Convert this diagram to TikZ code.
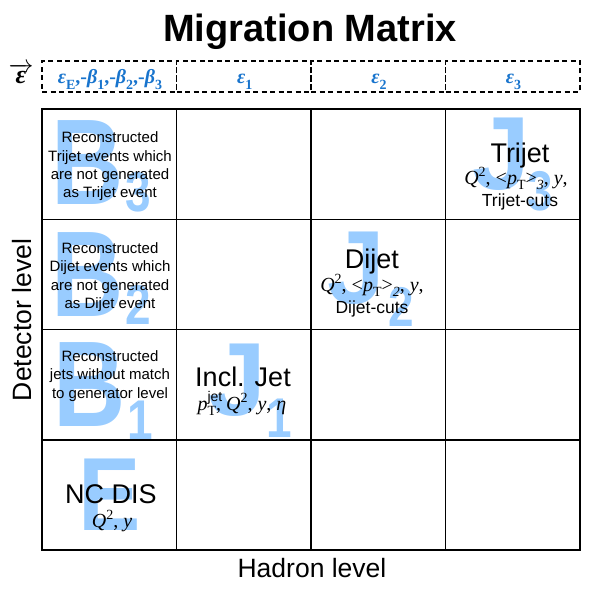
\documentclass[tikz,border=0pt]{standalone}
\usepackage{graphicx}
\usepackage{fontspec}
\setmainfont{Liberation Sans}
\newfontfamily\serif{Liberation Serif}
\definecolor{letterblue}{RGB}{153,204,255}
\definecolor{headblue}{RGB}{24,116,205}
\newcommand{\lo}[1]{\raisebox{-0.28em}{\scalebox{0.7}{#1}}}
\newcommand{\hi}[1]{\raisebox{0.36em}{\scalebox{0.7}{#1}}}
\newcommand{\mi}[1]{{\serif\itshape #1}}
\newcommand{\up}[1]{{\serif #1}}
\newcommand{\hb}[1]{{\serif\bfseries\itshape #1}}
\newcommand{\hu}[1]{{\serif\bfseries #1}}
\newcommand{\nar}[1]{\scalebox{0.82}[1]{#1}}
\begin{document}
\begin{tikzpicture}[x=1pt,y=-1pt,
  cell/.style={draw=black, line width=1.5pt, minimum width=134.5pt, minimum height=110.25pt, inner sep=0pt, outer sep=0pt, anchor=north west},
  headcell/.style={draw=black, line width=1.5pt, dash pattern=on 5pt off 3.5pt, minimum width=134.5pt, minimum height=31pt, inner sep=0pt, outer sep=0pt, anchor=north west},
  bigB/.style={text=letterblue, font=\fontsize{122}{122}\selectfont\bfseries, inner sep=0pt, anchor=center},
  bigJ/.style={text=letterblue, font=\fontsize{104}{104}\selectfont\bfseries, inner sep=0pt, anchor=center},
  bigsub/.style={text=letterblue, font=\fontsize{56}{56}\selectfont\bfseries, inner sep=0pt, anchor=center},
  desc/.style={font=\fontsize{15}{18.4}\selectfont, align=center, inner sep=0pt, anchor=center},
  proc/.style={font=\fontsize{27}{27}\selectfont, inner sep=0pt, anchor=base},
  vars/.style={font=\fontsize{20}{20}\selectfont, inner sep=0pt, anchor=base},
  cuts/.style={font=\fontsize{17.5}{17.5}\selectfont, inner sep=0pt, anchor=base},
  headtext/.style={text=headblue, font=\fontsize{20}{20}\selectfont, inner sep=0pt, anchor=base},
  axislab/.style={font=\fontsize{26.5}{26.5}\selectfont, inner sep=0pt}
]
\useasboundingbox (0,0) rectangle (602,591);

% large background letters
\node[bigB] (lB3) at (88,163) {\nar{B}};
\node[bigsub] (sB3) at (138,192) {\nar{3}};
\node[bigB] (lB2) at (88,275) {\nar{B}};
\node[bigsub] (sB2) at (138,305) {\nar{2}};
\node[bigB] (lB1) at (90,385) {\nar{B}};
\node[bigsub] (sB1) at (140,420) {\nar{1}};
\node[bigJ] (lE) at (110,495) {\scalebox{0.9}[1]{E}};
\node[bigJ] (lJ1) at (237,380) {J};
\node[bigsub] (sJ1) at (279,418) {\nar{1}};
\node[bigJ] (lJ2) at (356,268) {J};
\node[bigsub] (sJ2) at (401,307) {\nar{2}};
\node[bigJ] (lJ3) at (501,154) {J};
\node[bigsub] (sJ3) at (540,191) {\nar{3}};

% grid
\foreach \r in {0,...,3}
  \foreach \c in {0,...,3}
    \node[cell] (c\r\c) at ({42+134.5*\c},{109+110.25*\r}) {};
\foreach \c in {0,...,3}
  \node[headcell] (h\c) at ({42+134.5*\c},61) {};

% title and axis labels
\node[font=\fontsize{38}{38}\selectfont\bfseries, inner sep=0pt, anchor=base] (title) at (310,42) {Migration Matrix};
\node[axislab, rotate=90] (ylab) at (22.5,320) {Detector level};
\node[axislab, anchor=base] (xlab) at (312,577) {Hadron level};

% header
\node[inner sep=0pt, anchor=base, font=\fontsize{26}{26}\selectfont] (vec) at (21,84) {$\overrightarrow{\hbox{\hb{ε}}}$};
\node[headtext] (ht0) at (110,84) {\hb{ε}\lo{\hu{E}}\hu{,-}\hb{β}\lo{\hu{1}}\hu{,-}\hb{β}\lo{\hu{2}}\hu{,-}\hb{β}\lo{\hu{3}}};
\node[headtext] (ht1) at (244.75,84) {\hb{ε}\lo{\hu{1}}};
\node[headtext] (ht2) at (379,84) {\hb{ε}\lo{\hu{2}}};
\node[headtext] (ht3) at (513.5,84) {\hb{ε}\lo{\hu{3}}};

% cell texts
\node[desc] (t00) at (110,166.5) {Reconstructed\\Trijet events which\\are not generated\\as Trijet event};
\node[desc] (t10) at (110,277) {Reconstructed\\Dijet events which\\are not generated\\as Dijet event};
\node[desc] (t20) at (110,376) {Reconstructed\\jets without match\\to generator level};

\node[proc] (p30) at (111,503) {NC DIS};
\node[vars] (v30) at (112,527) {\mi{Q}\hi{\up{2}}\up{, }\mi{y}};

\node[proc] (p21) at (243,386) {Incl. Jet};
\node[vars] (v21) at (242,410) {\mi{p}\rlap{\raisebox{0.45em}{\scalebox{0.7}{jet}}}\lo{\up{T}}\up{, }\mi{Q}\hi{\up{2}}\up{, }\mi{y}\up{, }\mi{η}};

\node[proc] (p12) at (372,268) {Dijet};
\node[vars] (v12) at (372,291) {\mi{Q}\hi{\up{2}}\up{, <}\mi{p}\lo{\up{T}}\up{>}\lo{\mi{2}}\up{, }\mi{y}\up{,}};
\node[cuts] (k12) at (372,313) {Dijet-cuts};

\node[proc] (p03) at (520,162) {Trijet};
\node[vars] (v03) at (516,184) {\mi{Q}\hi{\up{2}}\up{, <}\mi{p}\lo{\up{T}}\up{>}\lo{\mi{3}}\up{, }\mi{y}\up{,}};
\node[cuts] (k03) at (520,206) {Trijet-cuts};
\end{tikzpicture}
\end{document}
